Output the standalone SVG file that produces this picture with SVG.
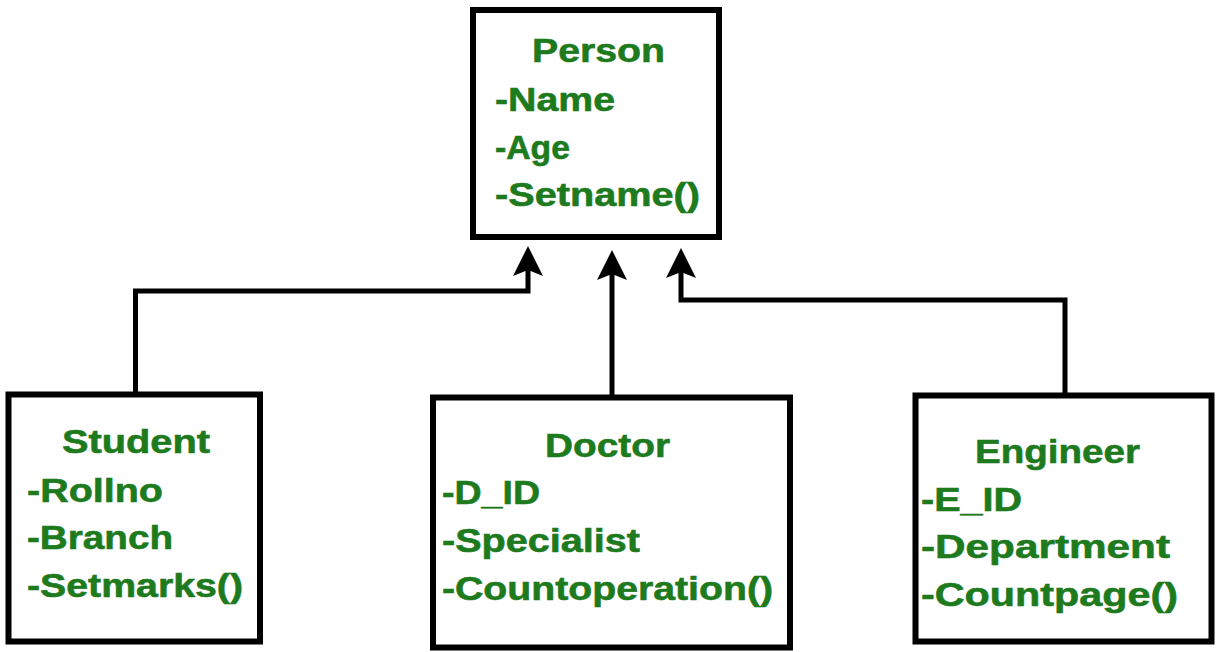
<svg xmlns="http://www.w3.org/2000/svg" width="1219" height="652" viewBox="0 0 1219 652">
<style>
.box{fill:#ffffff;stroke:#000000;stroke-width:6}
.t{font-family:"Liberation Sans",Arial,sans-serif;font-weight:bold;font-size:34px;fill:#1d7a1d;stroke:#1d7a1d;stroke-width:0.6}
.c{fill:none;stroke:#000000;stroke-width:5}
</style>
<defs>
<marker id="arr" markerUnits="userSpaceOnUse" viewBox="0 0 32 32" markerWidth="32" markerHeight="32" refX="24" refY="16" orient="auto">
<path d="M30 16 L0 1 L6 16 L0 31 Z" fill="#000000"/>
</marker>
</defs>
<rect width="1219" height="652" fill="#ffffff"/>
<g id="connectors">
<path class="c" d="M135.5 394 V291 H528 V252" marker-end="url(#arr)"/>
<path class="c" d="M612 397 V256" marker-end="url(#arr)"/>
<path class="c" d="M1065 395 V300 H681 V254" marker-end="url(#arr)"/>
</g>
<g id="person">
<rect class="box" x="473" y="10" width="246" height="227"/>
<text class="t" x="532" y="62" textLength="133" lengthAdjust="spacingAndGlyphs">Person</text>
<text class="t" x="495" y="111" textLength="120" lengthAdjust="spacingAndGlyphs">-Name</text>
<text class="t" x="495" y="159" textLength="75" lengthAdjust="spacingAndGlyphs">-Age</text>
<text class="t" x="495" y="206" textLength="205" lengthAdjust="spacingAndGlyphs">-Setname()</text>
</g>
<g id="student">
<rect class="box" x="8.5" y="394.5" width="251.5" height="247"/>
<text class="t" x="62" y="453" textLength="148" lengthAdjust="spacingAndGlyphs">Student</text>
<text class="t" x="27" y="502" textLength="136" lengthAdjust="spacingAndGlyphs">-Rollno</text>
<text class="t" x="27" y="549" textLength="146" lengthAdjust="spacingAndGlyphs">-Branch</text>
<text class="t" x="27" y="597" textLength="216" lengthAdjust="spacingAndGlyphs">-Setmarks()</text>
</g>
<g id="doctor">
<rect class="box" x="433" y="397.5" width="357" height="250"/>
<text class="t" x="545" y="457" textLength="125" lengthAdjust="spacingAndGlyphs">Doctor</text>
<text class="t" x="442" y="504" textLength="98" lengthAdjust="spacingAndGlyphs">-D_ID</text>
<text class="t" x="442" y="552" textLength="198" lengthAdjust="spacingAndGlyphs">-Specialist</text>
<text class="t" x="442" y="600" textLength="331" lengthAdjust="spacingAndGlyphs">-Countoperation()</text>
</g>
<g id="engineer">
<rect class="box" x="915.5" y="395.5" width="296" height="246"/>
<text class="t" x="975" y="463" textLength="165" lengthAdjust="spacingAndGlyphs">Engineer</text>
<text class="t" x="921" y="511" textLength="101" lengthAdjust="spacingAndGlyphs">-E_ID</text>
<text class="t" x="921" y="558" textLength="249" lengthAdjust="spacingAndGlyphs">-Department</text>
<text class="t" x="921" y="606" textLength="257" lengthAdjust="spacingAndGlyphs">-Countpage()</text>
</g>
</svg>
